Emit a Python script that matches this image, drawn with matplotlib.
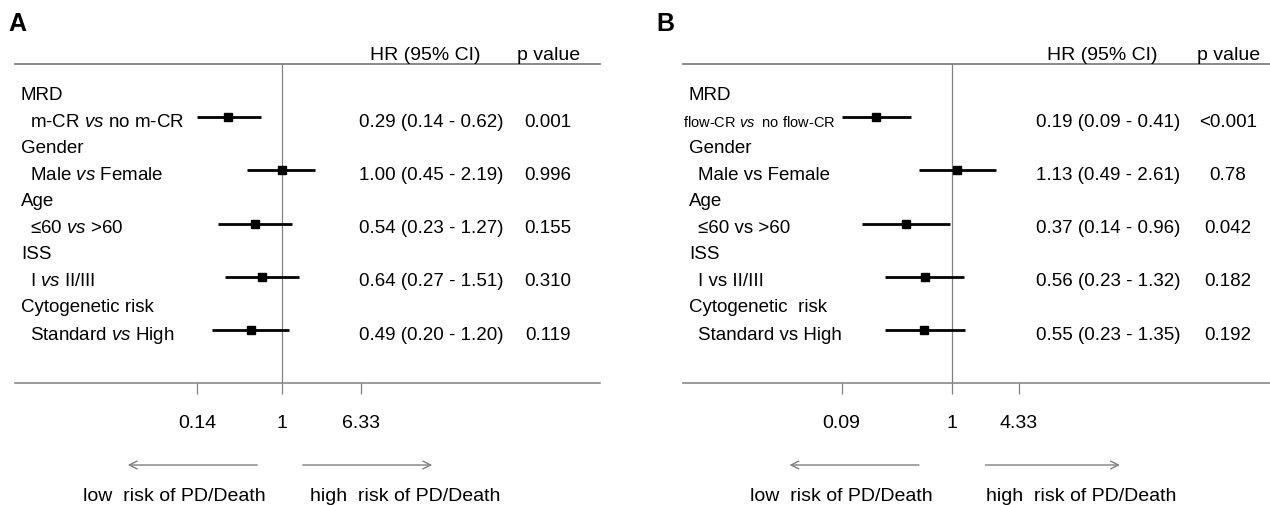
import numpy as np
import matplotlib
matplotlib.use("Agg")
import matplotlib.pyplot as plt
from matplotlib.transforms import blended_transform_factory
from matplotlib.patches import FancyArrowPatch
from matplotlib.ticker import NullLocator

plt.rcParams["font.family"] = ["Liberation Sans", "DejaVu Sans"]
plt.rcParams["mathtext.fontset"] = "custom"
plt.rcParams["mathtext.rm"] = "Liberation Sans"
plt.rcParams["mathtext.it"] = "Liberation Sans:italic"

# ---- Panel A: m-CR ----
a_groups = ["MRD", "Gender", "Age", "ISS", "Cytogenetic risk"]
a_compare = ["m-CR $\\it{vs}$ no m-CR", "Male $\\it{vs}$ Female", "≤60 $\\it{vs}$ >60",
             "I $\\it{vs}$ II/III", "Standard $\\it{vs}$ High"]
a_hr = [0.29, 1.00, 0.54, 0.64, 0.49]
a_lo = [0.14, 0.45, 0.23, 0.27, 0.20]
a_hi = [0.62, 2.19, 1.27, 1.51, 1.20]
a_p = ["0.001", "0.996", "0.155", "0.310", "0.119"]
a_ticks = [0.14, 1, 6.33]
a_ticklabels = ["0.14", "1", "6.33"]

# ---- Panel B: flow-CR ----
b_groups = ["MRD", "Gender", "Age", "ISS", "Cytogenetic  risk"]
b_compare = ["flow-CR $\\it{vs}$  no flow-CR", "Male vs Female", "≤60 vs >60",
             "I vs II/III", "Standard vs High"]
b_hr = [0.19, 1.13, 0.37, 0.56, 0.55]
b_lo = [0.09, 0.49, 0.14, 0.23, 0.23]
b_hi = [0.41, 2.61, 0.96, 1.32, 1.35]
b_p = ["<0.001", "0.78", "0.042", "0.182", "0.192"]
b_ticks = [0.09, 1, 4.33]
b_ticklabels = ["0.09", "1", "4.33"]

W, H = 1270, 506
fig = plt.figure(figsize=(W / 100, H / 100), dpi=100)
GRAY = "#808080"
TFS = 13.5   # table text
BFS = 14     # axis / footer text


def fx(px):
    return px / W


def fy(py):
    return 1 - py / H


def panel(letter, letter_x, left, right, ref_px, scale, groups, compare, hr, lo, hi,
          pvals, ticks, ticklabels, x_group, x_sub, x_hr, x_p, arrow_l, arrow_r,
          txt_low, txt_high, sub0_size):
    top_px, bot_px = 65, 384
    ax = fig.add_axes([fx(left), fy(bot_px), (right - left) / W, (bot_px - top_px) / H])
    ax.set_xscale("log")
    ax.set_xlim(np.exp((left - ref_px) / scale), np.exp((right - ref_px) / scale))
    ax.set_ylim(5, -1)
    rows = np.arange(len(hr))

    for s in ("left", "right"):
        ax.spines[s].set_visible(False)
    ax.spines["top"].set_color(GRAY)
    ax.spines["top"].set_linewidth(1.3)
    ax.spines["bottom"].set_color(GRAY)
    ax.spines["bottom"].set_linewidth(1.1)
    ax.set_yticks([])
    ax.xaxis.set_minor_locator(NullLocator())
    ax.set_xticks(ticks)
    ax.set_xticklabels(ticklabels, fontsize=BFS)
    ax.tick_params(axis="x", direction="out", length=8, width=0.9, color=GRAY, pad=14.5)

    ax.axvline(1, color=GRAY, lw=0.9, zorder=1)
    ax.hlines(rows, lo, hi, color="black", lw=2.0, zorder=3)
    ax.plot(hr, rows, "s", ms=6, color="black", zorder=4)

    tr = blended_transform_factory(fig.transFigure, ax.transData)
    for i, r in enumerate(rows):
        fig.text(fx(x_group), r - 0.43, groups[i], transform=tr, fontsize=TFS,
                 ha="left", va="center")
        fig.text(fx(x_sub[i]), r + 0.08, compare[i], transform=tr,
                 fontsize=sub0_size if i == 0 else TFS, ha="left", va="center")
        fig.text(fx(x_hr), r + 0.08, f"{hr[i]:.2f} ({lo[i]:.2f} - {hi[i]:.2f})",
                 transform=tr, fontsize=TFS, ha="center", va="center")
        fig.text(fx(x_p), r + 0.08, pvals[i], transform=tr, fontsize=TFS,
                 ha="center", va="center")

    fig.text(fx(x_hr - 6), fy(55), "HR (95% CI)", fontsize=BFS, ha="center", va="center")
    fig.text(fx(x_p + 1), fy(55), "p value", fontsize=BFS, ha="center", va="center")
    fig.text(fx(letter_x), fy(24), letter, fontsize=18, fontweight="bold",
             ha="left", va="center")

    for (x0, x1) in (arrow_l, arrow_r):
        fig.add_artist(FancyArrowPatch((fx(x0), fy(466)), (fx(x1), fy(466)),
                                       transform=fig.transFigure, arrowstyle="->",
                                       mutation_scale=14, lw=1.0, color=GRAY))
    fig.text(fx(txt_low), fy(497), "low  risk of PD/Death", fontsize=BFS,
             ha="center", va="center")
    fig.text(fx(txt_high), fy(497), "high  risk of PD/Death", fontsize=BFS,
             ha="center", va="center")
    return ax


panel("A", 8, 15, 600, 281.5, 43.0, a_groups, a_compare, a_hr, a_lo, a_hi, a_p,
      a_ticks, a_ticklabels, x_group=21, x_sub=[30, 30, 30, 30, 30], x_hr=431, x_p=547.5,
      arrow_l=(260, 125), arrow_r=(300, 435), txt_low=174, txt_high=405, sub0_size=TFS)

panel("B", 656, 683, 1270, 951.7, 45.7, b_groups, b_compare, b_hr, b_lo, b_hi, b_p,
      b_ticks, b_ticklabels, x_group=689, x_sub=[683, 698, 698, 698, 698], x_hr=1108.5,
      x_p=1228, arrow_l=(921.7, 786.7), arrow_r=(982.7, 1122.7), txt_low=841,
      txt_high=1081, sub0_size=10.5)

fig.savefig("out.png", dpi=100)
